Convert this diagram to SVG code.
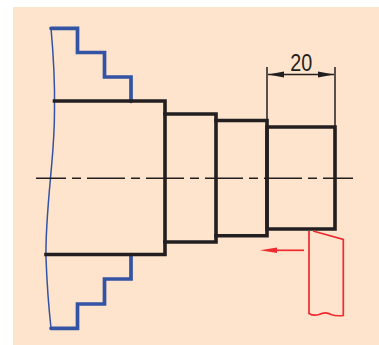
<svg xmlns="http://www.w3.org/2000/svg" width="379" height="345" viewBox="0 0 379 345">
<style>
.k{fill:none;stroke:#231f20;stroke-width:3.6;stroke-linecap:square;stroke-linejoin:miter}
.b{fill:none;stroke:#3353a4;stroke-width:3.7;stroke-linecap:round;stroke-linejoin:miter}
.bt{fill:none;stroke:#3353a4;stroke-width:1.5}
.t{fill:none;stroke:#231f20;stroke-width:1.5}
.r{fill:none;stroke:#ee2b30;stroke-width:1.7}
</style>
<rect x="13" y="7" width="366" height="338" fill="#fee4cc"/>
<g id="chuck">
<path class="b" d="M51 28.300H77.500V52.500H104.500V77H131V101.500"/>
<path class="b" d="M51 328.300H77.500V304H104.500V279H131V254.500"/>
<path class="bt" d="M51 28C53 50 55 80 54.500 110C54.500 140 52 160 50.500 178C48 205 45.500 235 46 258C47 285 49 310 51 328"/>
</g>
<g id="shaft">
<path class="k" d="M54.500 101H165V254.500H46"/>
<path class="k" d="M165 114H216V242H165"/>
<path class="k" d="M216 120.500H267V235.800H216"/>
<path class="k" d="M267 127H335V229H267Z"/>
</g>
<g id="centerline">
<path class="t" stroke-dasharray="30 6 9 6 38 6 9 6 38 6 9 6 38 6 9 6 38 6 9 6 38 6 9 6 30" d="M36 178.300H353"/>
</g>
<g id="dimension">
<path class="t" d="M267 67V127M335 67V127M268 74.500H334"/>
<path fill="#231f20" d="M268 74.500L284 71.500V77.500ZM334 74.500L318 71.500V77.500Z"/>
<text x="301.300" y="71.200" text-anchor="middle" font-family="Liberation Sans, sans-serif" font-size="24" textLength="22" lengthAdjust="spacingAndGlyphs" fill="#231f20">20</text>
</g>
<g id="tool">
<path class="r" d="M309 231V313.500C313 316 316 315.500 319 314.500C323 312.500 328 312.500 331 314.500C335 316 339 316 343.300 315.500V239.500L313 231"/>
<path class="r" d="M304 250.300H275"/>
<path fill="#ee2b30" d="M260 250.300L277 247.500V253Z"/>
</g>
</svg>
